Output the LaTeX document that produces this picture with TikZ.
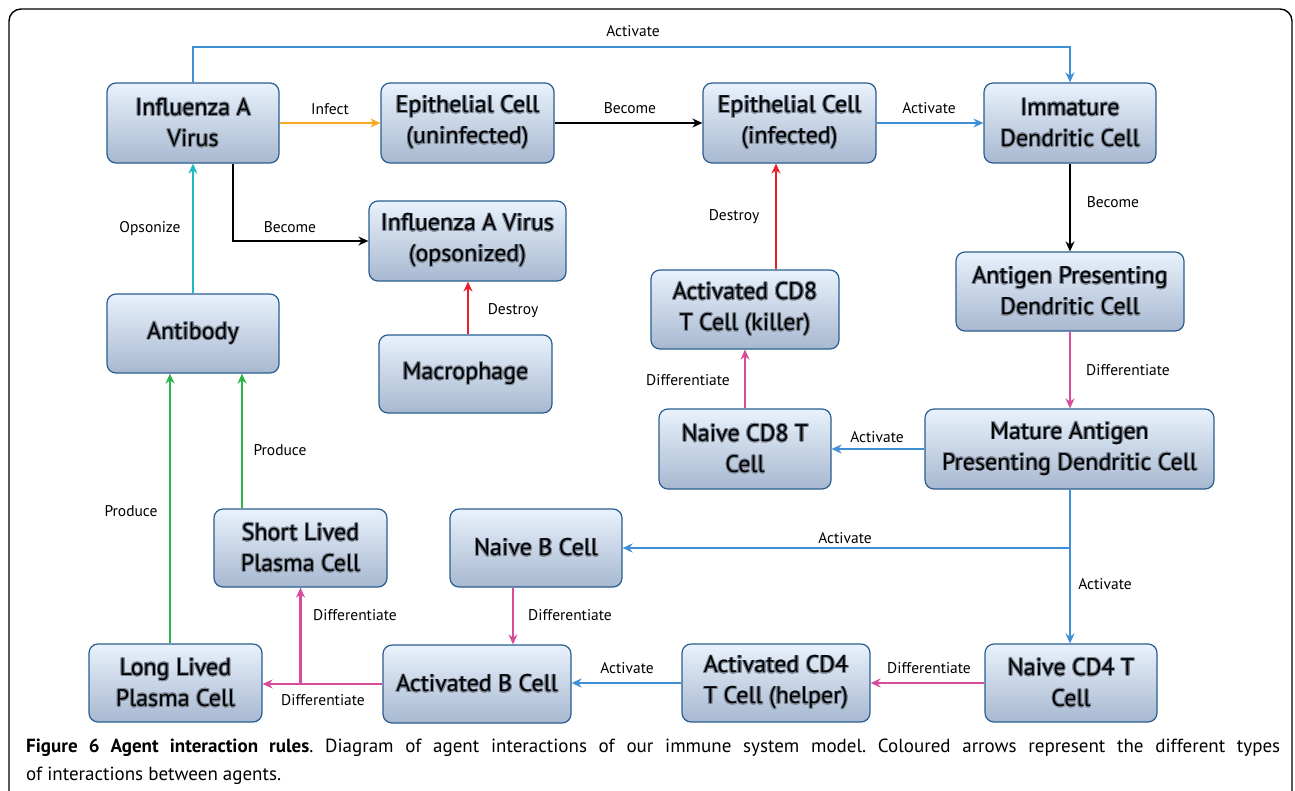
\documentclass[tikz,border=0pt]{standalone}
\usepackage{fontspec}
\setmainfont{PT Sans}
\usepackage{contour}
\contourlength{0.9pt}
\contournumber{24}
\usetikzlibrary{arrows.meta}
\definecolor{cblue}{HTML}{3D8FD6}
\definecolor{corange}{HTML}{F7A823}
\definecolor{cred}{HTML}{E8202A}
\definecolor{ccyan}{HTML}{1DBAC6}
\definecolor{cgreen}{HTML}{2DB34A}
\definecolor{cmag}{HTML}{D64C9B}
\definecolor{boxtop}{HTML}{E9F2FC}
\definecolor{boxbot}{HTML}{A7B8D0}
\definecolor{boxline}{HTML}{2A5D8F}
\definecolor{halo}{HTML}{7F8896}
\newcommand{\sh}[1]{\contour{halo}{#1}}
\begin{document}
\begin{tikzpicture}[x=1pt,y=-1pt,
  agent/.style={draw=boxline, line width=1.2pt, rounded corners=9pt,
    top color=boxtop, bottom color=boxbot, align=center,
    font=\fontsize{24}{31}\selectfont, inner sep=2pt},
  link/.style={line width=2.7pt, -{Stealth[length=10pt,width=9pt]}},
  lbl/.style={font=\fontsize{15.5}{18}\selectfont, inner sep=1pt}
]
\useasboundingbox (0,0) rectangle (1295,790);
\clip (0,0) rectangle (1295,790);
\draw[line width=1.4pt, rounded corners=12pt] (9,9) rectangle (1292,840);

% nodes
\node[agent, minimum width=172pt, minimum height=80pt] (virus) at (193,123) {\sh{Influenza A}\\\sh{Virus}};
\node[agent, minimum width=173pt, minimum height=80pt] (epiU) at (467.5,123) {\sh{Epithelial Cell}\\\sh{(uninfected)}};
\node[agent, minimum width=173pt, minimum height=80pt] (epiI) at (789.5,123) {\sh{Epithelial Cell}\\\sh{(infected)}};
\node[agent, minimum width=172pt, minimum height=80pt] (imm) at (1070,123) {\sh{Immature}\\\sh{Dendritic Cell}};
\node[agent, minimum width=197pt, minimum height=80pt] (opso) at (467.5,241) {\sh{Influenza A Virus}\\\sh{(opsonized)}};
\node[agent, minimum width=172pt, minimum height=79pt] (anti) at (193,333.5) {\sh{Antibody}};
\node[agent, minimum width=173pt, minimum height=78pt] (macro) at (465.5,374) {\sh{Macrophage}};
\node[agent, minimum width=188pt, minimum height=79pt] (cdea) at (745,309.5) {\sh{Activated CD8}\\\sh{T Cell (killer)}};
\node[agent, minimum width=228pt, minimum height=79pt] (apdc) at (1070,291.5) {\sh{Antigen Presenting}\\\sh{Dendritic Cell}};
\node[agent, minimum width=172pt, minimum height=80pt] (cden) at (745,449) {\sh{Naive CD8 T}\\\sh{Cell}};
\node[agent, minimum width=289pt, minimum height=80pt] (mapdc) at (1069.5,449) {\sh{Mature Antigen}\\\sh{Presenting Dendritic Cell}};
\node[agent, minimum width=173pt, minimum height=78pt] (slpc) at (300.5,548) {\sh{Short Lived}\\\sh{Plasma Cell}};
\node[agent, minimum width=172pt, minimum height=78pt] (bn) at (536,548) {\sh{Naive B Cell}};
\node[agent, minimum width=173pt, minimum height=78pt] (llpc) at (175.5,683) {\sh{Long Lived}\\\sh{Plasma Cell}};
\node[agent, minimum width=188pt, minimum height=78pt] (ba) at (477,684) {\sh{Activated B Cell}};
\node[agent, minimum width=188pt, minimum height=78pt] (cdfa) at (776,683) {\sh{Activated CD4}\\\sh{T Cell (helper)}};
\node[agent, minimum width=172pt, minimum height=78pt] (cdfn) at (1071,683) {\sh{Naive CD4 T}\\\sh{Cell}};

% connectors
\coordinate (topr) at (1070,47);
\draw[link, cblue] (virus.north) |- (topr) -- (imm.north);
\node[lbl] (l1) at (633,31) {Activate};

\draw[link, corange] (virus.east) -- (epiU.west);
\node[lbl] (l2) at (330,109) {Infect};

\draw[link, black] (epiU.east) -- (epiI.west);
\node[lbl] (l3) at (630,108) {Become};

\draw[link, cblue] (epiI.east) -- (imm.west);
\node[lbl] (l4) at (929,108) {Activate};

\draw[link, black] (imm.south) -- (apdc.north);
\node[lbl] (l5) at (1113,202) {Become};

\draw[link, cmag] (apdc.south) -- (apdc.south |- mapdc.north);
\node[lbl] (l6) at (1128,370) {Differentiate};

\draw[link, cblue] (mapdc.west) -- (cden.east);
\node[lbl] (l7) at (877,437) {Activate};

\draw[link, cmag] (cden.north) -- (cdea.south);
\node[lbl] (l8) at (688,380) {Differentiate};

\draw[link, cred] ([xshift=31pt]cdea.north) -- ([xshift=31pt]cdea.north |- epiI.south);
\node[lbl] (l9) at (734,217) {Destroy};

\coordinate (jn) at (1070,548);
\draw[link, cblue] ([xshift=0.5pt]mapdc.south) -- ([xshift=0.5pt]mapdc.south |- cdfn.north);
\draw[link, cblue] (jn) -- (bn.east);
\node[lbl] (l10) at (845,538) {Activate};
\node[lbl] (l11) at (1105,584) {Activate};

\draw[link, cmag] (cdfn.west) -- (cdfa.east);
\node[lbl] (l12) at (929,668) {Differentiate};

\draw[link, cblue] (cdfa.west) -- (cdfa.west -| ba.east);
\node[lbl] (l13) at (627,668) {Activate};

\draw[link, cmag] ([xshift=-23pt]bn.south) -- ([xshift=-23pt]bn.south |- ba.north);
\node[lbl] (l14) at (570,615) {Differentiate};

\draw[link, cmag] (ba.west) -- (llpc.east |- ba.west);
\coordinate (br) at (slpc.south |- ba.west);
\draw[link, cmag] (br) -- (slpc.south);
\node[lbl] (l15) at (323,700) {Differentiate};
\node[lbl] (l16) at (355,615) {Differentiate};

\draw[link, cgreen] ([xshift=-5.5pt]llpc.north) -- ([xshift=-5.5pt]llpc.north |- anti.south);
\node[lbl] (l17) at (131,511) {Produce};
\draw[link, cgreen] ([xshift=-58.5pt]slpc.north) -- ([xshift=-58.5pt]slpc.north |- anti.south);
\node[lbl] (l18) at (280,450) {Produce};

\draw[link, ccyan] (anti.north) -- (virus.south);
\node[lbl] (l19) at (150,229) {Opsonize};

\draw[link, black] ([xshift=40pt]virus.south) |- (opso.west);
\node[lbl] (l20) at (290,227) {Become};

\draw[link, cred] ([xshift=2.5pt]macro.north) -- ([xshift=2.5pt]macro.north |- opso.south);
\node[lbl] (l21) at (513,311) {Destroy};

% caption
\node[anchor=north west, text width=1254pt, align=justify, inner sep=0pt,
  font=\fontsize{19}{28}\selectfont\frenchspacing] (cap) at (26,739)
  {\textbf{Figure 6 Agent interaction rules}. Diagram of agent interactions of our immune system model. Coloured arrows represent the different types\linebreak of interactions between agents.};
\end{tikzpicture}
\end{document}
